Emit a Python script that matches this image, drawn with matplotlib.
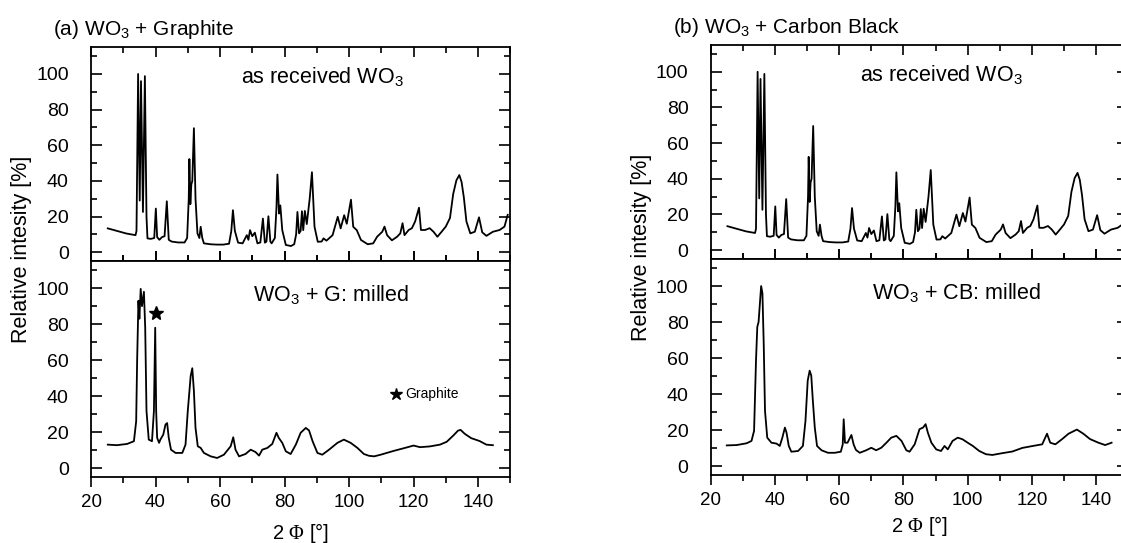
import matplotlib
matplotlib.use('Agg')
import matplotlib.pyplot as plt
from matplotlib.ticker import MultipleLocator

plt.rcParams['font.family'] = ['Liberation Sans', 'DejaVu Sans']
plt.rcParams['mathtext.fontset'] = 'custom'
plt.rcParams['mathtext.rm'] = 'Liberation Sans'
plt.rcParams['mathtext.it'] = 'Liberation Sans:italic'
plt.rcParams['mathtext.cal'] = 'Liberation Serif'

# XRD patterns (2 Phi in degrees, relative intensity in %)
received_x = [25.2, 27, 29, 31, 33.8, 34.1, 34.6, 35.1, 35.5, 36.1, 36.7, 37.2, 37.5,
              38.5, 39.6, 40.1, 40.5, 41.2, 42, 42.8, 43.5, 44.1, 45, 47, 49, 49.8,
              50.3, 50.5, 50.8, 51.1, 51.4, 51.9, 52.4, 53, 53.6, 54, 54.5, 55, 57,
              59, 61, 62.8, 63.5, 64, 64.6, 65.6, 67, 68.3, 68.8, 69.3, 70, 70.8,
              71.6, 72.5, 73.3, 73.9, 74.4, 75, 75.6, 76, 77, 77.5, 77.8, 78.3, 78.7,
              79.3, 80.4, 82, 83, 83.6, 84, 84.5, 85, 85.4, 85.8, 86.3, 86.9, 87.8,
              88.5, 89, 89.3, 90.3, 91.5, 92.1, 93, 94.9, 96.5, 97.4, 98.5, 99.3,
              100.6, 101.3, 102.4, 103.7, 105.8, 107.5, 108.7, 110.3, 111, 111.8,
              113.3, 114.9, 115.9, 116.6, 117.2, 118.5, 119.5, 120.5, 121.7, 122.3,
              123.6, 125, 126.2, 127.4, 128.7, 130, 131.3, 132.3, 133.3, 134.2, 134.9,
              135.6, 136.4, 137.6, 139, 140.3, 141.3, 142.6, 144.6, 146.7, 148.2, 149.2]
received_y = [13.4, 12.5, 11.5, 10.5, 9.6, 12, 100, 29, 96, 22.6, 98.8, 20, 7.8,
              7.5, 8, 24.5, 8.5, 7, 8.5, 9, 28.6, 7, 6, 5.5, 5.5, 8,
              30, 52.3, 27, 38, 40, 69.6, 30, 10.6, 8, 14.3, 8, 5, 4.5,
              4.3, 4.3, 4.8, 12, 23.6, 12, 5.4, 5, 9.6, 7, 12.4, 9, 11,
              5, 5.5, 18.9, 5.4, 6, 20.2, 6, 5, 8, 25, 43.6, 21.7, 26.3,
              12.4, 4.1, 3.5, 4.5, 10, 22.6, 10.6, 12, 23, 12.4, 23.2, 15.8, 30,
              44.9, 26, 14.3, 5.9, 6, 7.8, 6.5, 9.6, 19.9, 13.4, 20.8, 16,
              29.5, 14.3, 12.4, 6.9, 4.5, 5, 8.7, 11.5, 14.4, 9.6,
              6.7, 8.7, 10.6, 16.3, 9.6, 12.5, 13.5, 17.3, 25, 12.5,
              12.5, 13.5, 11.5, 8.7, 11.5, 14.4, 19.2, 32.7, 40.4, 43.3, 39.4,
              30.8, 17.3, 10.6, 11.5, 19.6, 11.2, 9.2, 11.5, 12.5, 14.4, 21]

graphite_x = [25.2, 28, 31.2, 33.3, 34, 34.3, 34.7, 35, 35.4, 35.8, 36.4, 36.8, 37.2,
              37.9, 38.9, 39.5, 39.9, 40.2, 40.5, 41.1, 41.5, 42.4, 43.1, 43.6, 44.1,
              44.8, 46.2, 48.3, 49.3, 50, 50.9, 51.4, 51.9, 52.4, 53.1, 54, 55, 57.1,
              59.1, 61.2, 63.3, 64.1, 64.8, 65.9, 67.9, 69.5, 71, 72.1, 73.1, 74.7,
              76.2, 77.5, 78.2, 79.3, 80.4, 81.9, 83.5, 85, 86.6, 87.6, 88.7, 90.2,
              91.7, 93.8, 96.4, 98.4, 100.5, 102.6, 104.6, 106.2, 107.8, 109.8, 113.8,
              118, 120, 122, 125, 128.2, 130.3, 132.3, 133.8, 134.6, 135.9, 137.9,
              140.5, 142.6, 144.6]
graphite_y = [13, 12.7, 13.4, 14.9, 26, 60, 93, 83, 99.6, 90, 98, 78, 31.7,
              15.8, 14.9, 31.7, 78, 31.7, 16.8, 14, 15.8, 18.6, 24.2, 25, 16.8,
              10.2, 8.4, 8.4, 13, 31.7, 51.2, 55.5, 42.8, 22.3, 12.1, 11.2, 8.4, 6.5,
              5.6, 7.4, 12.1, 17.1, 10.2, 6.5, 7.8, 10.2, 8.9, 6.9, 10.2, 11.2,
              13.4, 19.6, 16.8, 14, 9.3, 7.8, 13, 19.6, 22.3, 20.9, 14.9, 8.4,
              7.4, 10.2, 14, 15.8, 14, 11.2, 7.8, 6.8, 6.5, 7.4, 9.5,
              11.5, 12.5, 11.6, 12, 13, 14.6, 18, 20.8, 21.2, 19, 16.6,
              15, 13, 12.7]

cb_x = [25, 28.1, 31.2, 32.7, 33.5, 34.1, 34.5, 34.9, 35.3, 35.7, 36.1, 36.5, 36.9,
        37.6, 38.9, 40.5, 41.5, 42.3, 43.1, 43.6, 44.3, 45.1, 47.2, 48.7, 49.5,
        50.2, 50.8, 51.3, 51.8, 52.4, 53.1, 54.5, 56.5, 58.6, 60.5, 61.1, 61.4,
        61.8, 62.6, 63.8, 64.5, 65.2, 66.4, 68.4, 70, 71.5, 73.1, 74.7, 76.2,
        77.8, 79.4, 80.9, 81.9, 83.5, 85, 86.1, 86.9, 87.6, 88.7, 90.2, 91.7,
        92.8, 93.8, 95.3, 96.9, 98.4, 100, 101.6, 103.6, 105.7, 107.7, 110.8,
        113.9, 117, 120, 123.2, 124.7, 125.7, 127.3, 129.4, 131.4, 134, 136,
        138.1, 140.7, 142.8, 144.8]
cb_y = [11.5, 11.7, 12.7, 14, 19.6, 58.7, 77.3, 80, 90, 100, 96, 68, 30.7,
        15.8, 13, 12.5, 11.2, 15.8, 21.4, 18.6, 11.2, 8, 8.4, 11.2, 25.1,
        47.5, 53, 50.3, 36.3, 21.4, 11.2, 8.8, 7.4, 7.4, 8, 12, 26,
        13, 13, 17.3, 12, 9, 7.4, 8.8, 10.2, 8.8, 10.2, 13, 15.8,
        16.8, 14, 8.8, 8, 12.1, 20.5, 21.4, 23.3, 18.6, 13, 9.3, 8.4,
        11.2, 9.3, 14, 15.8, 14.9, 13, 11.2, 8.4, 6.6, 6.2, 7.2,
        8.1, 10.1, 11.1, 12.1, 18, 13, 12.1, 15, 18, 20.3, 18,
        15, 13, 11.7, 13]

fig = plt.figure(figsize=(11.21, 5.43), dpi=100)
fig.patch.set_facecolor('white')


def style(ax, bottom):
    ax.set_xlim(20, 150)
    ax.set_ylim(-5, 115)
    ax.xaxis.set_major_locator(MultipleLocator(20))
    ax.xaxis.set_minor_locator(MultipleLocator(10))
    ax.yaxis.set_minor_locator(MultipleLocator(10))
    ax.set_yticks([0, 20, 40, 60, 80, 100])
    ax.tick_params(axis='y', which='both', direction='in', left=True, right=True,
                   labelsize=14, pad=16)
    ax.tick_params(axis='y', which='major', length=8, width=1.2)
    ax.tick_params(axis='y', which='minor', length=4, width=1.2)
    ax.tick_params(axis='x', which='both', top=True, bottom=True, width=1.2,
                   direction='out' if bottom else 'in', labelbottom=bottom,
                   labelsize=13.5, pad=5)
    ax.tick_params(axis='x', which='major', length=7)
    ax.tick_params(axis='x', which='minor', length=4)
    for sp in ax.spines.values():
        sp.set_linewidth(1.3)


def panel(left, width, top, mid, bot, milled_x, milled_y, title, label, ylab_y, xlab_y):
    ax_t = fig.add_axes([left, mid, width, top - mid])
    ax_b = fig.add_axes([left, bot, width, mid - bot])
    ax_t.plot(received_x, received_y, color='black', lw=1.3)
    ax_b.plot(milled_x, milled_y, color='black', lw=1.3)
    style(ax_t, False)
    style(ax_b, True)
    ax_t.text(66.5, 98, 'as received WO$_3$', fontsize=15.5, va='center', ha='left')
    ax_b.text(70.3, 96, label, fontsize=15.5, va='center', ha='left')
    fig.text(left - 0.034, top + 0.033, title, fontsize=15, va='center', ha='left')
    fig.text(left - 0.062, ylab_y, 'Relative intesity [%]', fontsize=15.5,
             rotation=90, va='center', ha='center')
    ax_b.text(85, -5 - xlab_y, r'2 $\mathcal{\Phi}$ [°]', fontsize=14.5, ha='center',
              va='center', clip_on=False)
    return ax_t, ax_b


ax_a_top, ax_a_bot = panel(0.0812, 0.374, 0.913, 0.519, 0.1215, graphite_x, graphite_y,
                           '(a) WO$_3$ + Graphite', 'WO$_3$ + G: milled', 0.541, 31)
ax_b_top, ax_b_bot = panel(0.634, 0.3725, 0.917, 0.523, 0.125, cb_x, cb_y,
                           '(b) WO$_3$ + Carbon Black', 'WO$_3$ + CB: milled', 0.545, 28)

# graphite reflection marker and key
ax_a_bot.plot([40], [86], marker='*', color='black', markersize=10, ls='none')
ax_a_bot.plot([114.6], [41], marker='*', color='black', markersize=9, ls='none')
ax_a_bot.text(117.3, 41, 'Graphite', fontsize=10, va='center', ha='left')

fig.savefig('out.png', dpi=100, facecolor='white')
